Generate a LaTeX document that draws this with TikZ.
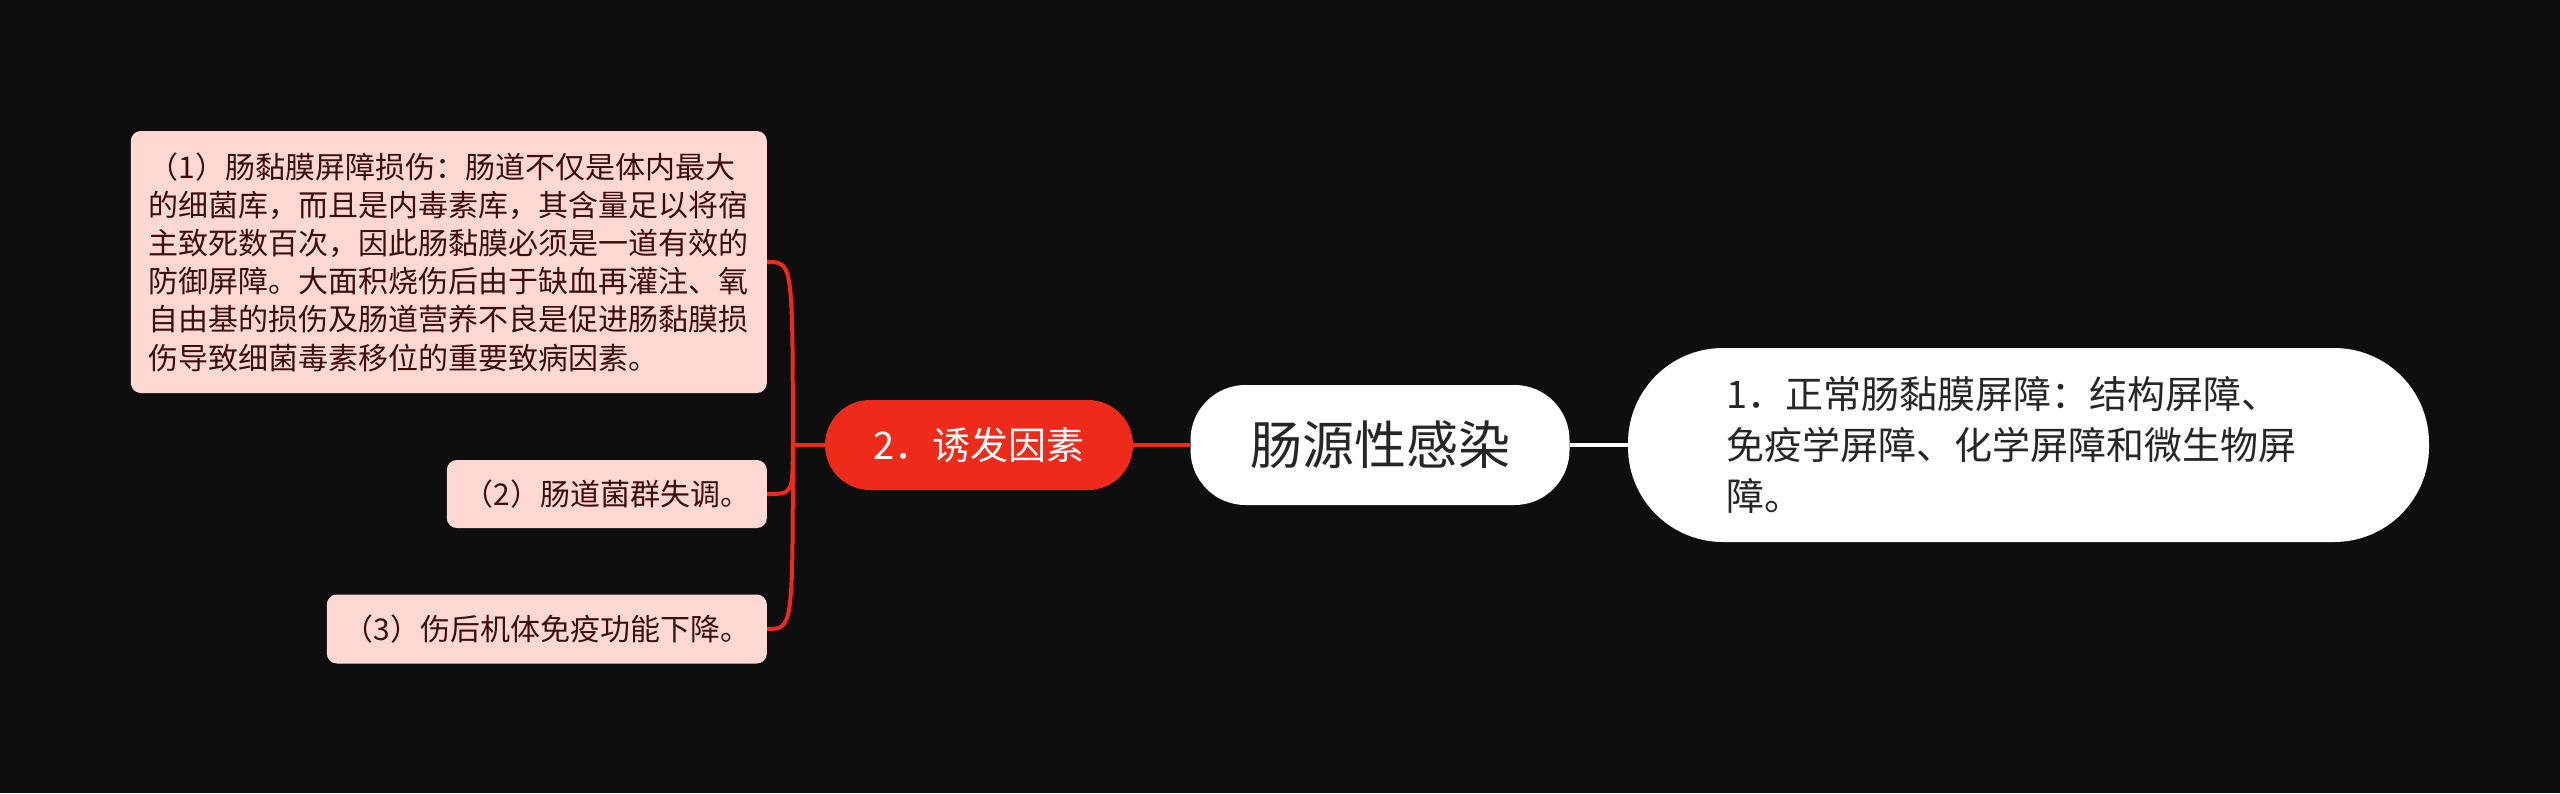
\documentclass[tikz,border=0pt]{standalone}
\usepackage{fontspec}
\setmainfont{Noto Sans CJK SC}
\definecolor{bgdark}{HTML}{0E0E0E}
\definecolor{mapred}{HTML}{EE2A1B}
\definecolor{pinkfill}{HTML}{FFD8D4}
\definecolor{pinktext}{HTML}{3E0D0A}
\definecolor{greytext}{HTML}{262626}
\tikzset{
    pinkbox/.style={fill=pinkfill,text=pinktext,rounded corners=10pt,inner sep=0pt,anchor=east,align=left,font={\fontsize{30}{38.2}\selectfont}},
    whitebox/.style={fill=white,text=greytext,inner sep=0pt},
    redline/.style={draw=mapred,line width=4pt},
}

\begin{document}
\begin{tikzpicture}[x=1pt,y=-1pt]
            \fill[bgdark] (0,0) rectangle (2560,793);
            \useasboundingbox (0,0) rectangle (2560,793);
            \node (root) at (1380,445)[whitebox,minimum width=379pt,minimum height=120pt,rounded corners=55pt,font={\fontsize{52}{60}\selectfont}]{肠源性感染};
            \node (barrier) at (2028.5,445)[whitebox,minimum width=801pt,minimum height=194pt,rounded corners=95pt,text width=605pt,align=left,font={\fontsize{38}{51}\selectfont}]{1．正常肠黏膜屏障：结构屏障、\\免疫学屏障、化学屏障和微生物屏\\障。};
            \node (cause) at (979,445)[fill=mapred,text=white,inner sep=0pt,minimum width=308pt,minimum height=90pt,rounded corners=45pt,font={\fontsize{38}{46}\selectfont}]{2．诱发因素};
            \node (b1) at (767,262)[pinkbox,minimum width=636pt,minimum height=262pt]{（1）肠黏膜屏障损伤：肠道不仅是体内最大\\的细菌库，而且是内毒素库，其含量足以将宿\\主致死数百次，因此肠黏膜必须是一道有效的\\防御屏障。大面积烧伤后由于缺血再灌注、氧\\自由基的损伤及肠道营养不良是促进肠黏膜损\\伤导致细菌毒素移位的重要致病因素。};
            \node (b2) at (767,494)[pinkbox,minimum width=320pt,minimum height=68pt]{（2）肠道菌群失调。};
            \node (b3) at (767,629)[pinkbox,minimum width=440pt,minimum height=69pt]{（3）伤后机体免疫功能下降。};
            \draw[white,line width=4pt] (root) -- (barrier);
            \draw[redline] (cause) -- (root);
            \coordinate (jn) at ([xshift=-32pt]cause.west);
            \draw[redline] (cause.west) -- (jn);
            \foreach \b in {b1,b2,b3}{
                \draw[redline] (jn) .. controls (jn |- \b.east) .. (\b.east);
            }
        \end{tikzpicture}
\end{document}
